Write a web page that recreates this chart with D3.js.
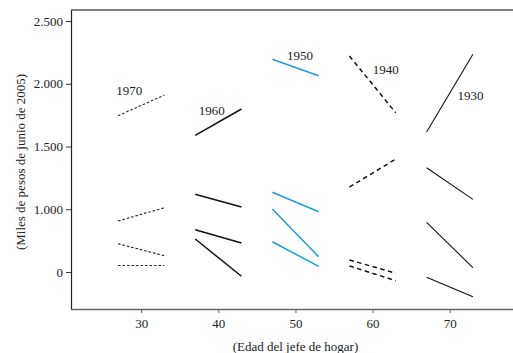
<!DOCTYPE html>
<html>
<head>
<meta charset="utf-8">
<script src="https://cdn.jsdelivr.net/npm/d3@7"></script>
<style>
  body { margin: 0; background: #fff; }
  svg { display: block; font-family: "Liberation Serif", "DejaVu Serif", serif; }
  .tick text { font-size: 13px; fill: #222; }
</style>
</head>
<body>
<svg id="chart" width="513" height="353"></svg>
<script>
// cohorts (year of birth of head of household)
var cohorts = ["1970", "1960", "1950", "1940", "1930"];
var ageStart = [27, 37, 47, 57, 67];
var ageEnd = [33, 43, 53, 63, 73];

// four lines per cohort: [value at start age, value at end age]
var values = [
  [[1745, 1910], [906, 1012], [725, 630], [552, 552]],
  [[1589, 1799], [1119, 1018], [837, 731], [763, 466]],
  [[2195, 2064], [1135, 980], [1002, 622], [741, 545]],
  [[2221, 1769], [1177, 1400], [596, 490], [548, 431]],
  [[1616, 2235], [1331, 1079], [896, 534], [458, 303]]
];

// label anchor for each cohort: [age, value]
var labelAt = [[28.45, 1910], [39.15, 1751], [50.6, 2189], [61.7, 2078], [72.7, 1870]];

var xTicks = [30, 40, 50, 60, 70];
var yTicks = [500, 1000, 1500, 2000, 2500];
var yTickLabels = ["0", "1.000", "1.500", "2.000", "2.500"];

var styles = [
  {color: "#222", width: 1.1, dash: "2.5,2"},
  {color: "#111", width: 1.5, dash: null},
  {color: "#1a9ddd", width: 1.5, dash: null},
  {color: "#111", width: 1.5, dash: "4.5,3.5"},
  {color: "#111", width: 1.1, dash: null}
];

var svg = d3.select("#chart");
var m = {left: 71, right: 513, top: 10, bottom: 309};

var x = d3.scaleLinear().domain([20.9, 78.2]).range([m.left, m.right]);
var y = d3.scaleLinear().domain([205, 2588]).range([m.bottom, m.top]);

// frame top line
svg.append("line")
  .attr("x1", m.left).attr("x2", m.right)
  .attr("y1", m.top).attr("y2", m.top)
  .attr("stroke", "#555").attr("stroke-width", 1.5);

var gx = svg.append("g")
  .attr("transform", "translate(0," + m.bottom + ")")
  .call(d3.axisBottom(x).tickValues(xTicks).tickSize(4).tickSizeOuter(0).tickPadding(6));
gx.attr("font-family", null).attr("font-size", null);
gx.select(".domain").attr("stroke", "#666").attr("stroke-width", 1.5);
gx.selectAll(".tick line").attr("stroke", "#666");

var gy = svg.append("g")
  .attr("transform", "translate(" + m.left + ",0)")
  .call(d3.axisLeft(y).tickValues(yTicks).tickSize(5).tickSizeOuter(0).tickPadding(3)
    .tickFormat(function(d, i) { return yTickLabels[i]; }));
gy.attr("font-family", null).attr("font-size", null);
gy.select(".domain").attr("stroke", "#222").attr("stroke-width", 1.2);
gy.selectAll(".tick line").attr("stroke", "#333");

// cohort lines
cohorts.forEach(function(c, i) {
  var s = styles[i];
  svg.append("g").selectAll("line")
    .data(values[i])
    .enter().append("line")
    .attr("x1", x(ageStart[i]))
    .attr("x2", x(ageEnd[i]))
    .attr("y1", function(d) { return y(d[0]); })
    .attr("y2", function(d) { return y(d[1]); })
    .attr("stroke", s.color)
    .attr("stroke-width", s.width)
    .attr("stroke-dasharray", s.dash);

  svg.append("text")
    .attr("x", x(labelAt[i][0]))
    .attr("y", y(labelAt[i][1]))
    .attr("text-anchor", "middle")
    .attr("font-size", 13)
    .attr("fill", "#222")
    .text(c);
});

// axis titles
svg.append("text")
  .attr("x", (x(30) + x(70)) / 2)
  .attr("y", 351)
  .attr("text-anchor", "middle")
  .attr("font-size", 13)
  .attr("fill", "#222")
  .text("(Edad del jefe de hogar)");

svg.append("text")
  .attr("transform", "translate(25,162) rotate(-90)")
  .attr("text-anchor", "middle")
  .attr("font-size", 13)
  .attr("fill", "#222")
  .text("(Miles de pesos de junio de 2005)");
</script>
</body>
</html>
